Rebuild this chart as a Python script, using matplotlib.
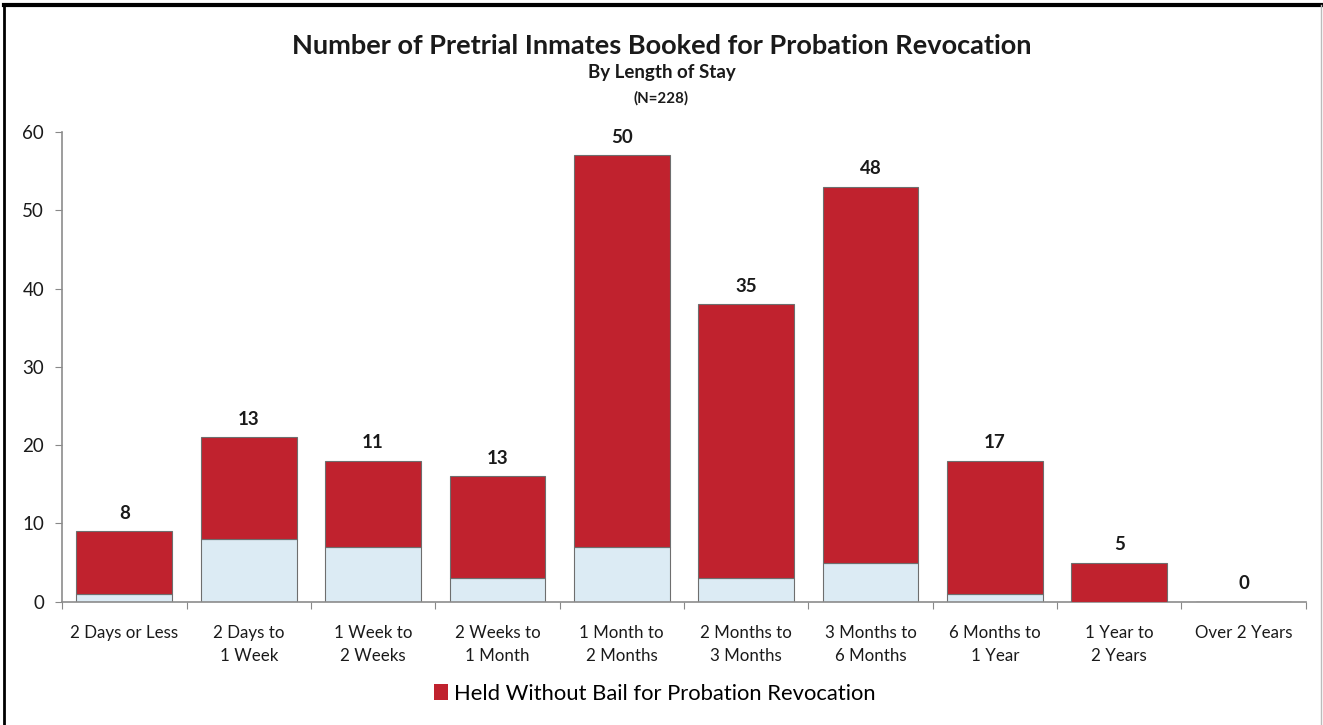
#!/usr/bin/env python3
"""Pretrial inmates booked for probation revocation, by length of stay."""

import matplotlib
matplotlib.use("Agg")
import matplotlib.pyplot as plt
from matplotlib.lines import Line2D
from matplotlib.patches import Patch
import numpy as np

# Data
categories = [
    "2 Days or Less", "2 Days to\n1 Week", "1 Week to\n2 Weeks", "2 Weeks to\n1 Month",
    "1 Month to\n2 Months", "2 Months to\n3 Months", "3 Months to\n6 Months",
    "6 Months to\n1 Year", "1 Year to\n2 Years", "Over 2 Years",
]
held_without_bail = [8, 13, 11, 13, 50, 35, 48, 17, 5, 0]
other_bookings = [1, 8, 7, 3, 7, 3, 5, 1, 0, 0]
y_ticks = [0, 10, 20, 30, 40, 50, 60]

RED = "#C0222E"
BLUE = "#DCEBF4"
EDGE = "#6E6E6E"
TEXT = "#1A1A1A"

plt.rcParams["font.family"] = ["Lato", "DejaVu Sans"]

fig = plt.figure(figsize=(13.23, 7.25), dpi=100)
fig.patch.set_facecolor("white")
ax = fig.add_axes([0.047, 0.170, 0.940, 0.648])

x = np.arange(len(categories))
width = 0.77
ax.bar(x, other_bookings, width, color=BLUE, edgecolor=EDGE, linewidth=0.8, zorder=2)
ax.bar(x, held_without_bail, width, bottom=other_bookings, color=RED,
       edgecolor=EDGE, linewidth=0.8, zorder=3)

totals = np.array(other_bookings) + np.array(held_without_bail)
for xi, tot, val in zip(x, totals, held_without_bail):
    ax.text(xi, tot + 1.2, str(val), ha="center", va="bottom",
            fontsize=13.5, fontweight="bold", color=TEXT)

ax.set_xlim(-0.5, len(categories) - 0.5)
ax.set_ylim(0, 60)
ax.set_yticks(y_ticks)
ax.set_yticklabels([str(t) for t in y_ticks], fontsize=13.5, color=TEXT)
ax.set_xticks(np.arange(len(categories) + 1) - 0.5, minor=False)
ax.set_xticklabels([])
ax.set_xticks(x, minor=True)
ax.set_xticklabels(categories, minor=True, fontsize=12.2, color=TEXT, linespacing=1.5)
ax.tick_params(axis="x", which="minor", length=0, pad=17)
ax.tick_params(axis="x", which="major", length=5, color="#888888")
ax.tick_params(axis="y", length=5, color="#888888", pad=8)

for side in ("top", "right"):
    ax.spines[side].set_visible(False)
for side in ("left", "bottom"):
    ax.spines[side].set_color("#8C8C8C")
    ax.spines[side].set_linewidth(1.2)

# Titles
fig.text(0.5, 0.937, "Number of Pretrial Inmates Booked for Probation Revocation",
         ha="center", va="center", fontsize=19.5, fontweight="bold", color=TEXT)
fig.text(0.5, 0.900, "By Length of Stay", ha="center", va="center",
         fontsize=13.5, fontweight="bold", color=TEXT)
fig.text(0.5, 0.865, "(N=228)", ha="center", va="center",
         fontsize=10.8, fontweight="bold", color=TEXT)

# Legend
handle = Patch(facecolor=RED, edgecolor="none")
fig.legend([handle], ["Held Without Bail for Probation Revocation"],
           loc="center", bbox_to_anchor=(0.495, 0.043), frameon=False,
           fontsize=15.8, handlelength=0.65, handleheight=0.7, handletextpad=0.3)

# Outer frame
fig.add_artist(Line2D([0.003, 1.0], [0.993, 0.993], transform=fig.transFigure,
                      color="black", linewidth=3))
fig.add_artist(Line2D([0.003, 0.003], [0.0, 0.993], transform=fig.transFigure,
                      color="black", linewidth=2))
fig.add_artist(Line2D([0.9985, 0.9985], [0.0, 0.993], transform=fig.transFigure,
                      color="#BBBBBB", linewidth=1))

fig.savefig("out.png", dpi=100, facecolor="white")
